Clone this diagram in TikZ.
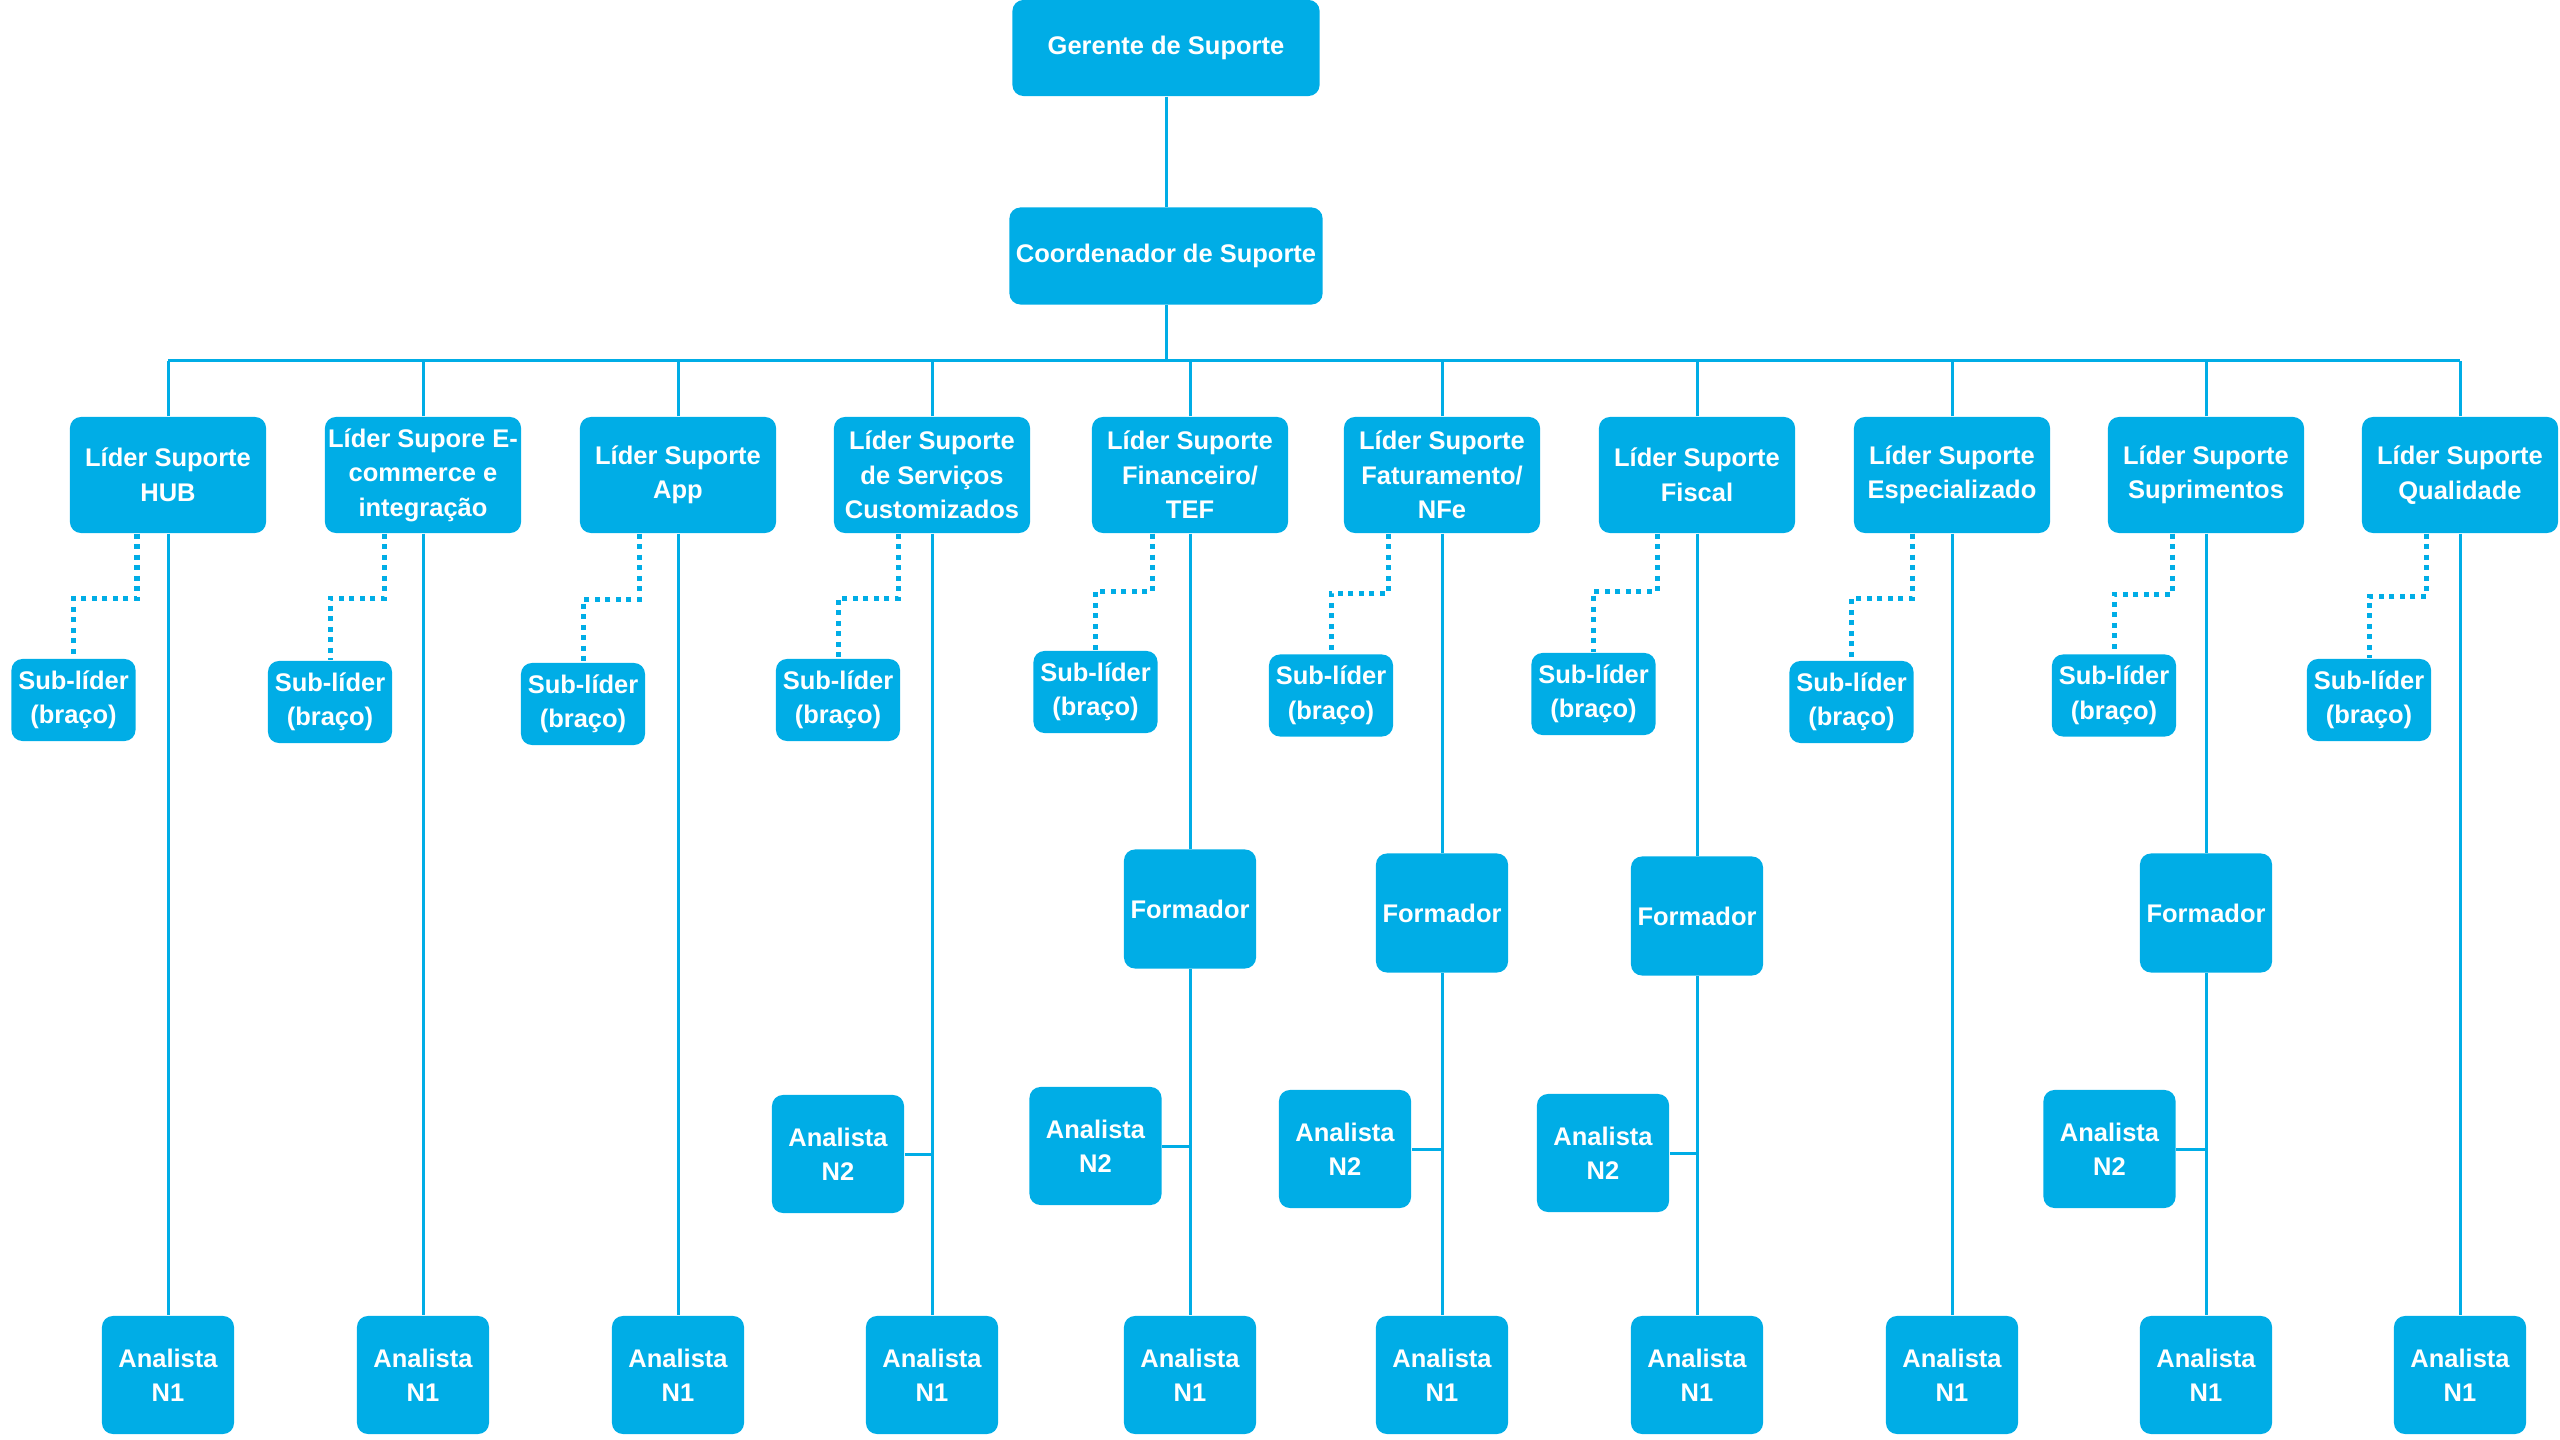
\documentclass[tikz,border=0pt]{standalone}
\usepackage{fontspec}
\setmainfont{Liberation Sans}
\usetikzlibrary{calc}
\definecolor{boxblue}{HTML}{00ADE6}
\begin{document}
\begin{tikzpicture}[x=0.01cm,y=-0.01cm,
  box/.style={draw=none, fill=boxblue, rounded corners=0.11cm, text=white,
    font=\fontsize{7.25pt}{9.8pt}\selectfont\bfseries, align=center, inner sep=0pt},
  lead/.style={box, minimum width=1.96cm, minimum height=1.16cm},
  sublead/.style={box, minimum width=1.24cm, minimum height=0.82cm},
  former/.style={box, minimum width=1.32cm, minimum height=1.19cm},
  analyst/.style={box, minimum width=1.32cm, minimum height=1.18cm},
  link/.style={draw=boxblue, line width=0.03cm},
  dotlink/.style={draw=boxblue, line width=0.05cm, dash pattern=on 0.05cm off 0.055cm}]
\useasboundingbox (0,0) rectangle (2560,1440);

% top
\node[box, minimum width=3.07cm, minimum height=0.96cm] (ger) at (1166,48) {Gerente de Suporte};
\node[box, minimum width=3.13cm, minimum height=0.97cm] (coo) at (1166,256) {Coordenador de Suporte};
\coordinate (bus) at (1166,361);

% leaders
\node[lead] (l1) at (168,475) {Líder Suporte\\HUB};
\node[lead] (l2) at (423,475) {Líder Supore E-\\commerce e\\integração};
\node[lead] (l3) at (678,475) {Líder Suporte\\App};
\node[lead] (l4) at (932,475) {Líder Suporte\\de Serviços\\Customizados};
\node[lead] (l5) at (1190,475) {Líder Suporte\\Financeiro/\\TEF};
\node[lead] (l6) at (1442,475) {Líder Suporte\\Faturamento/\\NFe};
\node[lead] (l7) at (1697,475) {Líder Suporte\\Fiscal};
\node[lead] (l8) at (1952,475) {Líder Suporte\\Especializado};
\node[lead] (l9) at (2206,475) {Líder Suporte\\Suprimentos};
\node[lead] (l10) at (2460,475) {Líder Suporte\\Qualidade};

% sub-leaders
\foreach \i/\x/\y in {1/73.5/700, 2/330/702, 3/583/704, 4/838/700, 5/1095.5/692,
                      6/1331/695.5, 7/1593.5/694, 8/1851.5/702, 9/2114/695.5, 10/2369/700}
  \node[sublead] (s\i) at (\x,\y) {Sub-líder\\(braço)};

% formadores
\node[former] (f5) at (1190,909) {Formador};
\node[former] (f6) at (1442,913) {Formador};
\node[former] (f7) at (1697,916) {Formador};
\node[former] (f9) at (2206,913) {Formador};

% analistas N2
\node[analyst] (a4) at (838,1154) {Analista\\N2};
\node[analyst] (a5) at (1095.5,1146) {Analista\\N2};
\node[analyst] (a6) at (1345,1149) {Analista\\N2};
\node[analyst] (a7) at (1603,1153) {Analista\\N2};
\node[analyst] (a9) at (2109.5,1149) {Analista\\N2};

% analistas N1
\foreach \i/\x in {1/168, 2/423, 3/678, 4/932, 5/1190, 6/1442, 7/1697, 8/1952, 9/2206, 10/2460}
  \node[analyst] (n\i) at (\x,1375) {Analista\\N1};

% connectors
\draw[link] (ger) -- (coo);
\draw[link] (coo) -- (bus);
\draw[link] (l1.north |- bus) -- (l10.north |- bus);
\foreach \i in {1,...,10}
  \draw[link] (l\i.north) -- (l\i.north |- bus);
\foreach \i in {1,2,3,4,8,10}
  \draw[link] (l\i) -- (n\i);
\foreach \i in {5,6,7,9}
  \draw[link] (l\i) -- (f\i) -- (n\i);
\draw[link] (a4.east) -- (a4.east -| l4.south);
\foreach \i in {5,6,7,9}
  \draw[link] (a\i.east) -- (a\i.east -| f\i.south);

% dotted sub-leader connectors
\foreach \i/\d/\h in {1/31/65, 2/39/65, 3/39/66, 4/34/65, 5/37.5/58,
                      6/54/60, 7/40/58, 8/40/65, 9/34/61, 10/34/63}
  \draw[dotlink] ($(l\i.south)+(-\d,0)$) -- ++(0,\h) -| (s\i.north);
\end{tikzpicture}
\end{document}
